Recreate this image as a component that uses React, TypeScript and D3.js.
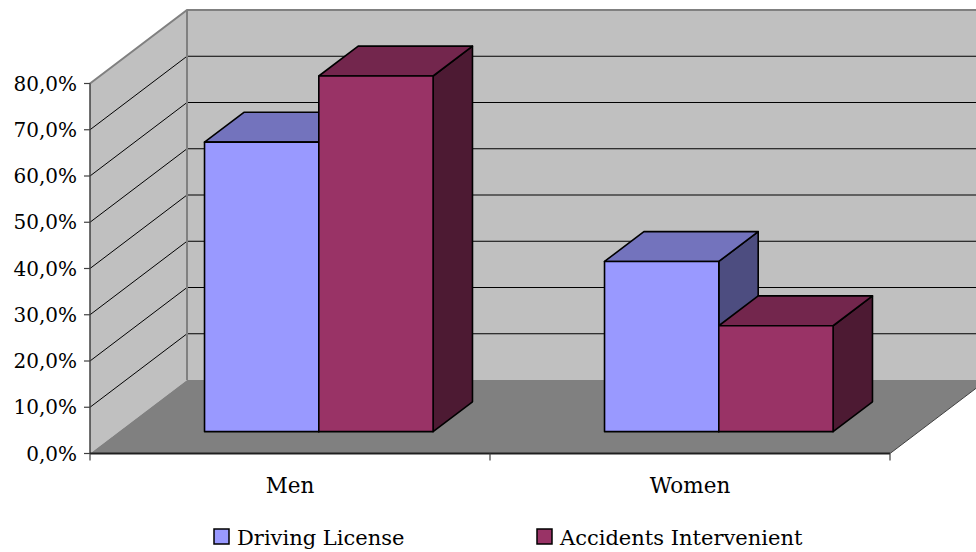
import React from "react";
import * as d3 from "d3";

// Chart data
const categories = ["Men", "Women"];
const seriesNames = ["Driving License", "Accidents Intervenient"];
const drivingLicense = [0.626, 0.368];
const accidentsIntervenient = [0.769, 0.229];
const tickValues = [0, 0.1, 0.2, 0.3, 0.4, 0.5, 0.6, 0.7, 0.8];

const W = 976;
const H = 552;

// Oblique 3D projection: depth z in [0,1] shifts points right and up
const DX = 97;
const DY = 73.5;
const X0 = 90;
const X1 = 890;
const Z0 = 0.297;
const Z1 = 0.703;

const palette = [
  { front: "#9999ff", top: "#7373bd", side: "#4d4d80" },
  { front: "#993366", top: "#73264d", side: "#4d1a33" },
];

const fmt = (v: number) => (v * 100).toFixed(1).replace(".", ",") + "%";

export default function App() {
  const y = d3.scaleLinear().domain([0, 0.8]).range([453.5, 83.5]);
  const xCat = d3.scaleBand<string>().domain(categories).range([X0, X1]).paddingInner(0).paddingOuter(0);
  const xSeries = d3
    .scaleBand<string>()
    .domain(seriesNames)
    .range([0, xCat.bandwidth()])
    .paddingInner(0)
    .paddingOuter(0.75);

  const P = (x: number, v: number, z: number): [number, number] => [x + z * DX, y(v) - z * DY];
  const poly = (pts: [number, number][]) => pts.map((p) => p.join(",")).join(" ");

  const values = [drivingLicense, accidentsIntervenient];
  const yTop = 0.8;

  const bars: React.ReactNode[] = [];
  categories.forEach((c, ci) => {
    seriesNames.forEach((s, si) => {
      const v = values[si][ci];
      const xl = (xCat(c) ?? 0) + (xSeries(s) ?? 0);
      const xr = xl + xSeries.bandwidth();
      const col = palette[si];
      const front = [P(xl, 0, Z0), P(xr, 0, Z0), P(xr, v, Z0), P(xl, v, Z0)] as [number, number][];
      const top = [P(xl, v, Z0), P(xr, v, Z0), P(xr, v, Z1), P(xl, v, Z1)] as [number, number][];
      const side = [P(xr, 0, Z0), P(xr, 0, Z1), P(xr, v, Z1), P(xr, v, Z0)] as [number, number][];
      bars.push(
        <g key={c + s}>
          <polygon points={poly(side)} fill={col.side} stroke="#000" strokeWidth={1.6} strokeLinejoin="round" />
          <polygon points={poly(top)} fill={col.top} stroke="#000" strokeWidth={1.6} strokeLinejoin="round" />
          <polygon points={poly(front)} fill={col.front} stroke="#000" strokeWidth={1.6} strokeLinejoin="round" />
        </g>
      );
    });
  });

  const backLeft = P(X0, 0, 1);
  const backTop = P(X0, yTop, 1);

  return (
    <svg width={W} height={H} style={{ position: "absolute", left: 0, top: 0, background: "#fff" }}>
      {/* walls and floor */}
      <polygon points={poly([backLeft, P(X1, 0, 1), P(X1, yTop, 1), backTop])} fill="#c0c0c0" />
      <polygon points={poly([P(X0, 0, 0), P(X0, yTop, 0), backTop, backLeft])} fill="#c0c0c0" />
      <polygon points={poly([P(X0, 0, 0), P(X1, 0, 0), P(X1, 0, 1), backLeft])} fill="#808080" />

      {/* gridlines on side and back walls */}
      {tickValues.slice(1, -1).map((t) => {
        const a = P(X0, t, 0);
        const b = P(X0, t, 1);
        const c = P(X1, t, 1);
        return <polyline key={t} points={poly([a, b, c])} fill="none" stroke="#000" strokeWidth={1} />;
      })}
      {/* wall outlines */}
      <polyline points={poly([P(X0, yTop, 0), backTop, P(X1, yTop, 1)])} fill="none" stroke="#808080" strokeWidth={2} />
      <line x1={backLeft[0]} y1={backLeft[1]} x2={backTop[0]} y2={backTop[1]} stroke="#808080" strokeWidth={2} />
      <line x1={X1} y1={y(0)} x2={P(X1, 0, 1)[0]} y2={P(X1, 0, 1)[1]} stroke="#404040" strokeWidth={1} />

      {bars}

      {/* value axis */}
      <line x1={X0} y1={y(0)} x2={X0} y2={y(yTop)} stroke="#404040" strokeWidth={1.5} />
      {tickValues.map((t) => (
        <g key={t}>
          <line x1={X0 - 6} x2={X0} y1={y(t)} y2={y(t)} stroke="#404040" strokeWidth={1.2} />
          <text
            x={X0 - 13}
            y={y(t)}
            dy="0.36em"
            textAnchor="end"
            fontFamily="'DejaVu Serif', serif"
            fontSize={20}
            fill="#000"
          >
            {fmt(t)}
          </text>
        </g>
      ))}

      {/* category axis */}
      <line x1={X0} y1={y(0)} x2={X1} y2={y(0)} stroke="#202020" strokeWidth={1.8} />
      {[X0, X0 + xCat.bandwidth(), X1].map((x) => (
        <line key={x} x1={x} x2={x} y1={y(0)} y2={y(0) + 7} stroke="#404040" strokeWidth={1.2} />
      ))}
      {categories.map((c) => (
        <text
          key={c}
          x={(xCat(c) ?? 0) + xCat.bandwidth() / 2}
          y={493}
          textAnchor="middle"
          fontFamily="'DejaVu Serif', serif"
          fontSize={21.5}
          fill="#000"
        >
          {c}
        </text>
      ))}

      {/* legend */}
      {seriesNames.map((s, i) => {
        const lx = [214, 537][i];
        return (
          <g key={s}>
            <rect x={lx} y={529} width={15} height={15} fill={palette[i].front} stroke="#000" strokeWidth={1.5} />
            <text x={lx + 23} y={545} fontFamily="'DejaVu Serif', serif" fontSize={21} fill="#000">
              {s}
            </text>
          </g>
        );
      })}
    </svg>
  );
}
